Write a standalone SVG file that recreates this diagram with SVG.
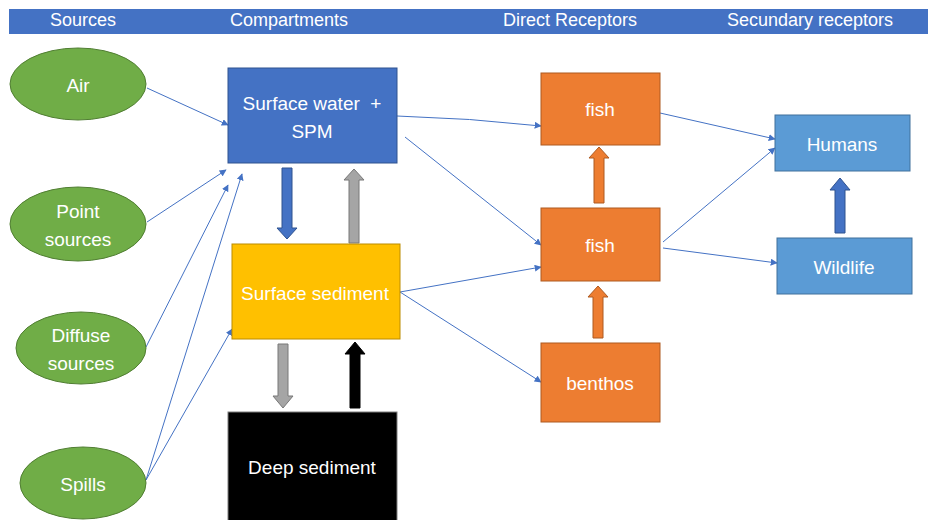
<svg xmlns="http://www.w3.org/2000/svg" width="928" height="520" viewBox="0 0 928 520">
  <defs>
    <marker id="tip" viewBox="0 0 10 10" refX="9" refY="5" markerWidth="7" markerHeight="7" markerUnits="userSpaceOnUse" orient="auto">
      <path d="M0,0 L10,5 L0,10 z" fill="#4472C4"/>
    </marker>
    <style>
      text { font-family: "Liberation Sans", Arial, sans-serif; fill: #ffffff; text-anchor: middle; dominant-baseline: central; }
      .hdr { font-size: 18px; }
      .lbl { font-size: 19px; }
      .src { fill: #70AD47; stroke: #507E32; stroke-width: 1; }
      .water { fill: #4472C4; stroke: #2F528F; stroke-width: 1; }
      .sed { fill: #FFC000; stroke: #BC8C00; stroke-width: 1; }
      .deep { fill: #000000; stroke: #7F7F7F; stroke-width: 1; }
      .rec { fill: #ED7D31; stroke: #AE5A21; stroke-width: 1; }
      .sec { fill: #5B9BD5; stroke: #41719C; stroke-width: 1; }
      .link { fill: none; stroke: #4472C4; stroke-width: 1; marker-end: url(#tip); }
      .blk-blue { fill: #4472C4; stroke: #2F528F; stroke-width: 1; }
      .blk-gray { fill: #A5A5A5; stroke: #787878; stroke-width: 1; }
      .blk-black { fill: #000000; stroke: #000000; stroke-width: 1; }
      .blk-orange { fill: #ED7D31; stroke: #AE5A21; stroke-width: 1; }
    </style>
  </defs>

  <rect width="928" height="520" fill="#ffffff"/>

  <!-- column header bar -->
  <g id="header">
    <rect x="9" y="9" width="919" height="25" fill="#4472C4"/>
    <text class="hdr" x="83" y="20">Sources</text>
    <text class="hdr" x="289" y="20">Compartments</text>
    <text class="hdr" x="570" y="20">Direct Receptors</text>
    <text class="hdr" x="810" y="20">Secundary receptors</text>
  </g>

  <!-- connectors -->
  <g id="connectors">
    <path class="link" d="M147,88 L228,125"/>
    <path class="link" d="M147,222 L226,170"/>
    <path class="link" d="M146,347 L228,185"/>
    <path class="link" d="M146,480 L242,174"/>
    <path class="link" d="M146,480 L232,329"/>
    <path class="link" d="M397,116 Q470,118 541,126"/>
    <path class="link" d="M405,137 L541,245"/>
    <path class="link" d="M400,292 L541,267"/>
    <path class="link" d="M400,292 L541,382"/>
    <path class="link" d="M660,113 L775,139"/>
    <path class="link" d="M663,242 L775,148"/>
    <path class="link" d="M663,248 L777,263"/>

    <!-- block arrows -->
    <path class="blk-blue" d="M282,168 H292 V228 H297 L287,239 L277,228 H282 Z"/>
    <path class="blk-gray" d="M349,243 V180 H344 L354,169 L364,180 H359 V243 Z"/>
    <path class="blk-gray" d="M278,344 H288 V396 H293 L283,408 L273,396 H278 Z"/>
    <path class="blk-black" d="M350,408 V354 H345 L355,342 L365,354 H360 V408 Z"/>
    <path class="blk-orange" d="M594,203 V158 H589 L599,147 L609,158 H604 V203 Z"/>
    <path class="blk-orange" d="M593,338 V297 H588 L598,286 L608,297 H603 V338 Z"/>
    <path class="blk-blue" d="M835,233 V190 H830 L840,178 L850,190 H845 V233 Z"/>
  </g>

  <!-- sources -->
  <g id="air">
    <ellipse class="src" cx="78" cy="84" rx="68" ry="36"/>
    <text class="lbl" x="78" y="85">Air</text>
  </g>
  <g id="point-sources">
    <ellipse class="src" cx="78" cy="224" rx="68" ry="37"/>
    <text class="lbl" x="78" y="211">Point</text>
    <text class="lbl" x="78" y="239">sources</text>
  </g>
  <g id="diffuse-sources">
    <ellipse class="src" cx="81" cy="348" rx="65" ry="36"/>
    <text class="lbl" x="81" y="335">Diffuse</text>
    <text class="lbl" x="81" y="363">sources</text>
  </g>
  <g id="spills">
    <ellipse class="src" cx="83" cy="483" rx="63" ry="36"/>
    <text class="lbl" x="83" y="484">Spills</text>
  </g>

  <!-- compartments -->
  <g id="surface-water">
    <rect class="water" x="228" y="68" width="169" height="95"/>
    <text class="lbl" x="312" y="103" xml:space="preserve">Surface water  +</text>
    <text class="lbl" x="312" y="131">SPM</text>
  </g>
  <g id="surface-sediment">
    <rect class="sed" x="232" y="244" width="168" height="95"/>
    <text class="lbl" x="315" y="293">Surface sediment</text>
  </g>
  <g id="deep-sediment">
    <rect class="deep" x="228" y="412" width="169" height="112"/>
    <text class="lbl" x="312" y="467">Deep sediment</text>
  </g>

  <!-- direct receptors -->
  <g id="fish-top">
    <rect class="rec" x="541" y="73" width="119" height="72"/>
    <text class="lbl" x="600" y="109">fish</text>
  </g>
  <g id="fish-middle">
    <rect class="rec" x="541" y="208" width="119" height="73"/>
    <text class="lbl" x="600" y="245">fish</text>
  </g>
  <g id="benthos">
    <rect class="rec" x="541" y="343" width="119" height="79"/>
    <text class="lbl" x="600" y="383">benthos</text>
  </g>

  <!-- secondary receptors -->
  <g id="humans">
    <rect class="sec" x="775" y="115" width="135" height="56"/>
    <text class="lbl" x="842" y="144">Humans</text>
  </g>
  <g id="wildlife">
    <rect class="sec" x="777" y="238" width="135" height="56"/>
    <text class="lbl" x="844" y="267">Wildlife</text>
  </g>
</svg>
